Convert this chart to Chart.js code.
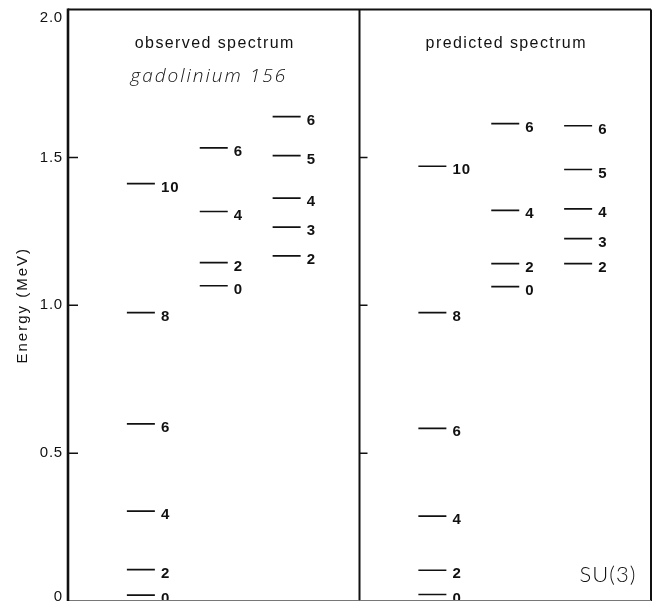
<!DOCTYPE html>
<html><head><meta charset="utf-8">
<script src="https://cdn.jsdelivr.net/npm/chart.js@4.4.1/dist/chart.umd.min.js"></script>
<style>
html,body{margin:0;padding:0;overflow:hidden;background:#fff;width:654px;height:601px}
#wrap{position:relative;width:654px;height:601px;overflow:hidden}
canvas{display:block}
</style></head>
<body><div id="wrap"><canvas id="c" width="654" height="601"></canvas></div>
<script>
// ---- data ----
const yTicks = [0, 0.5, 1.0, 1.5, 2.0];
const yTickLabels = ['0', '0.5', '1.0', '1.5', '2.0'];
const axisTitle = 'Energy (MeV)';
const panelTitles = ['observed spectrum', 'predicted spectrum'];
const sampleNote = 'gadolinium 156';
const modelNote = 'SU(3)';

const obsGroundSpin = [0, 2, 4, 6, 8, 10];
const obsGroundE    = [0.020, 0.106, 0.304, 0.599, 0.975, 1.411];
const obsBetaSpin   = [0, 2, 4, 6];
const obsBetaE      = [1.066, 1.144, 1.317, 1.532];
const obsGammaSpin  = [2, 3, 4, 5, 6];
const obsGammaE     = [1.167, 1.264, 1.362, 1.506, 1.638];

const predGroundSpin = [0, 2, 4, 6, 8, 10];
const predGroundE    = [0.022, 0.104, 0.287, 0.584, 0.975, 1.470];
const predBetaSpin   = [0, 2, 4, 6];
const predBetaE      = [1.063, 1.141, 1.321, 1.614];
const predGammaSpin  = [2, 3, 4, 5, 6];
const predGammaE     = [1.141, 1.225, 1.326, 1.459, 1.607];

// column slot of each band on the x axis (panel 1: 1..3, divider 4, panel 2: 5..7)
const bands = [
  {slot: 1, e: obsGroundE,  j: obsGroundSpin},
  {slot: 2, e: obsBetaE,    j: obsBetaSpin},
  {slot: 3, e: obsGammaE,   j: obsGammaSpin},
  {slot: 5, e: predGroundE, j: predGroundSpin},
  {slot: 6, e: predBetaE,   j: predBetaSpin},
  {slot: 7, e: predGammaE,  j: predGammaSpin}
];
const dividerSlot = 4;
const panelCenters = [2, 6];

const INK = '#111';
const SANS = '"Liberation Sans", Arial, sans-serif';

const datasets = bands.map(b => ({
  data: b.e.map(v => ({x: b.slot, y: v})),
  spins: b.j,
  showLine: false,
  pointStyle: 'line',
  pointRadius: 14,
  pointHoverRadius: 14,
  pointBorderWidth: 1.7,
  borderColor: INK,
  backgroundColor: INK
}));

const spacing = {
  id: 'spacing',
  beforeDraw(chart) { chart.ctx.letterSpacing = '2px'; },
  beforeDatasetsDraw(chart) { chart.ctx.letterSpacing = '0px'; }
};

const levelLabels = {
  id: 'levelLabels',
  afterDatasetsDraw(chart) {
    const ctx = chart.ctx;
    ctx.save();
    ctx.fillStyle = INK;
    ctx.font = 'bold 15px ' + SANS;
    ctx.letterSpacing = '1px';
    ctx.textAlign = 'left';
    ctx.textBaseline = 'middle';
    chart.data.datasets.forEach((ds, di) => {
      const meta = chart.getDatasetMeta(di);
      meta.data.forEach((pt, i) => {
        ctx.fillText(String(ds.spins[i]), pt.x + 20, pt.y + 4);
      });
    });
    ctx.restore();
  }
};

const frame = {
  id: 'frame',
  afterDraw(chart) {
    const ctx = chart.ctx;
    const {left, right, top, bottom} = chart.chartArea;
    const xs = chart.scales.x, ys = chart.scales.y;
    const dx = xs.getPixelForValue(dividerSlot);
    ctx.save();
    ctx.strokeStyle = INK;
    ctx.lineCap = 'butt';
    // frame
    ctx.lineWidth = 2;
    ctx.beginPath();
    ctx.moveTo(left, top); ctx.lineTo(right, top);
    ctx.moveTo(right, top); ctx.lineTo(right, bottom);
    ctx.moveTo(dx, top - 1); ctx.lineTo(dx, bottom);
    ctx.stroke();
    ctx.strokeStyle = '#777';
    ctx.lineWidth = 1;
    ctx.beginPath();
    ctx.moveTo(left, 600.5); ctx.lineTo(right, 600.5);
    ctx.stroke();
    ctx.strokeStyle = INK;
    ctx.lineWidth = 2.6;
    ctx.beginPath();
    ctx.moveTo(left, top - 1); ctx.lineTo(left, bottom);
    ctx.stroke();
    // inward ticks
    ctx.lineWidth = 1.5;
    ctx.beginPath();
    ys.ticks.forEach(t => {
      if (t.value <= ys.min || t.value >= ys.max) return;
      const py = ys.getPixelForValue(t.value);
      ctx.moveTo(left, py); ctx.lineTo(left + 10, py);
      ctx.moveTo(dx, py); ctx.lineTo(dx + 8, py);
    });
    ctx.stroke();
    // tick labels
    ctx.fillStyle = INK;
    ctx.font = '15px ' + SANS;
    ctx.letterSpacing = '0.8px';
    ctx.textAlign = 'right';
    ctx.textBaseline = 'middle';
    ys.ticks.forEach(t => {
      let py = ys.getPixelForValue(t.value);
      if (t.value >= ys.max) py += 8;
      if (t.value <= ys.min) py -= 4;
      const idx = yTicks.indexOf(t.value);
      ctx.fillText(idx >= 0 ? yTickLabels[idx] : String(t.value), left - 5, py);
    });
    // panel titles
    ctx.textAlign = 'center';
    ctx.font = '16px ' + SANS;
    ctx.letterSpacing = '1.4px';
    panelTitles.forEach((txt, i) => {
      ctx.fillText(txt, xs.getPixelForValue(panelCenters[i]) + 1, top + 34);
    });
    // handwritten notes
    ctx.letterSpacing = '2px';
    ctx.font = 'italic 300 19px "Open Sans", "DejaVu Sans", sans-serif';
    ctx.fillText(sampleNote, xs.getPixelForValue(panelCenters[0]) - 5, top + 67);
    ctx.letterSpacing = '1px';
    ctx.font = '300 22px Lato, "Open Sans", sans-serif';
    ctx.fillText(modelNote, right - 43, bottom - 26);
    ctx.restore();
  }
};

new Chart(document.getElementById('c'), {
  type: 'scatter',
  data: {datasets},
  options: {
    responsive: false,
    animation: false,
    events: [],
    layout: {autoPadding: false, padding: {top: 9.5, right: 3, bottom: -1.5, left: 0}},
    plugins: {legend: {display: false}, tooltip: {enabled: false}},
    scales: {
      x: {type: 'linear', min: 0, max: 8, display: false},
      y: {
        type: 'linear', min: 0, max: 2,
        afterFit: s => { s.width = 68; },
        afterBuildTicks: s => { s.ticks = yTicks.map(v => ({value: v})); },
        grid: {display: false},
        border: {display: false},
        ticks: {display: false},
        title: {
          display: true, text: axisTitle, color: INK,
          font: {family: SANS, size: 15},
          padding: {top: 14, bottom: 0}
        }
      }
    }
  },
  plugins: [spacing, levelLabels, frame]
});
</script>
</body></html>
